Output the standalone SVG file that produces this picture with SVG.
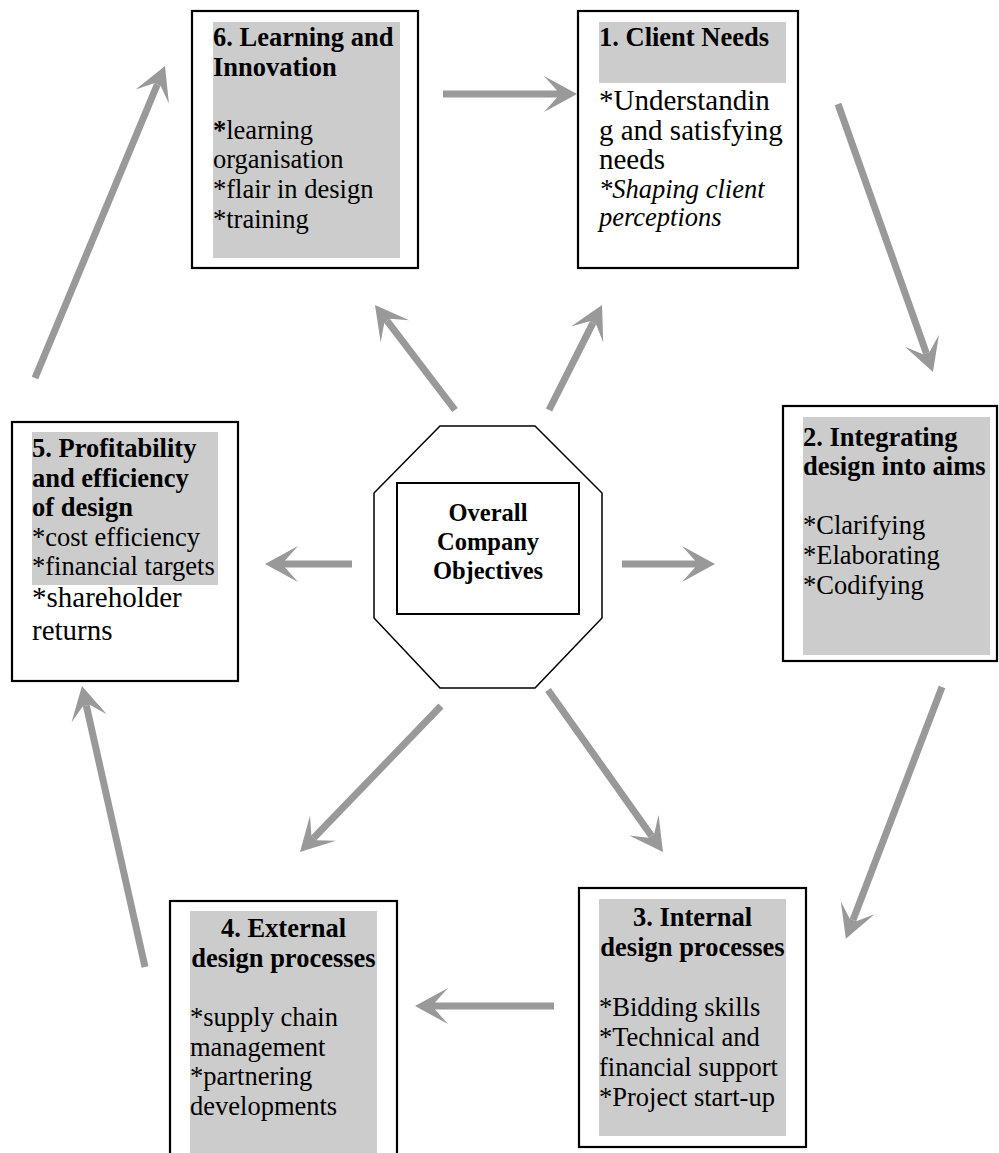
<svg xmlns="http://www.w3.org/2000/svg" width="999" height="1153" viewBox="0 0 999 1153">
<style>
.box{fill:#fff;stroke:#000;stroke-width:2.2}
.sh{fill:#cccccc}
.t{font-family:"Liberation Serif","Times New Roman",serif;font-size:26.5px;fill:#000}
.b{font-weight:bold}
.l{font-size:29px}
.i{font-style:italic}
.c{text-anchor:middle}
.arr{stroke:#999999;stroke-width:7;fill:none;marker-end:url(#ah)}
</style>
<defs>
<marker id="ah" markerUnits="userSpaceOnUse" markerWidth="50" markerHeight="50" viewBox="-25 -25 50 50" refX="0" refY="0" orient="auto" overflow="visible">
<path d="M20,0 L-13,-18 L0,-3.5 L0,3.5 L-13,18 Z" fill="#999999"/>
</marker>
</defs>
<rect width="999" height="1153" fill="#fff"/>
<g id="connectors">
<line class="arr" x1="443" y1="94" x2="557" y2="94"/>
<line class="arr" x1="838" y1="104" x2="926.3" y2="353.1"/>
<line class="arr" x1="942" y1="687" x2="853" y2="920"/>
<line class="arr" x1="554" y1="1006" x2="435" y2="1006"/>
<line class="arr" x1="145" y1="967" x2="86.3" y2="705.5"/>
<line class="arr" x1="35" y1="378" x2="157.3" y2="84.5"/>
<line class="arr" x1="455" y1="410" x2="387.1" y2="320.9"/>
<line class="arr" x1="549" y1="410" x2="593" y2="322.9"/>
<line class="arr" x1="622" y1="564" x2="695" y2="564"/>
<line class="arr" x1="352" y1="564" x2="285" y2="564"/>
<line class="arr" x1="441" y1="706" x2="313.9" y2="837.7"/>
<line class="arr" x1="548" y1="690" x2="651.4" y2="835.7"/>
</g>
<g id="node6">
<rect class="box" x="192" y="11" width="226" height="257"/>
<rect class="sh" x="213" y="22" width="187" height="236"/>
<text class="t b" x="213" y="46">6. Learning and</text>
<text class="t b" x="213" y="76">Innovation</text>
<text class="t" x="213" y="139"><tspan class="b">*</tspan>learning</text>
<text class="t" x="213" y="168">organisation</text>
<text class="t" x="213" y="198">*flair in design</text>
<text class="t" x="213" y="228">*training</text>
</g>
<g id="node1">
<rect class="box" x="578" y="11" width="220" height="257"/>
<rect class="sh" x="599" y="22" width="187" height="61"/>
<text class="t b" x="599" y="46">1. Client Needs</text>
<text class="t l" x="599" y="110">*Understandin</text>
<text class="t l" x="599" y="140">g and satisfying</text>
<text class="t l" x="599" y="169">needs</text>
<text class="t i" x="599" y="198">*Shaping client</text>
<text class="t i" x="599" y="226">perceptions</text>
</g>
<g id="node2">
<rect class="box" x="783" y="406" width="214" height="255"/>
<rect class="sh" x="803" y="417" width="187" height="238"/>
<text class="t b" x="803" y="446">2. Integrating</text>
<text class="t b" x="803" y="475">design into aims</text>
<text class="t" x="803" y="534">*Clarifying</text>
<text class="t" x="803" y="564">*Elaborating</text>
<text class="t" x="803" y="594">*Codifying</text>
</g>
<g id="node3">
<rect class="box" x="579" y="888" width="227" height="259"/>
<rect class="sh" x="599" y="899" width="187" height="237"/>
<text class="t b c" x="692.5" y="926">3. Internal</text>
<text class="t b c" x="692.5" y="956">design processes</text>
<text class="t" x="599" y="1016">*Bidding skills</text>
<text class="t" x="599" y="1046">*Technical and</text>
<text class="t" x="599" y="1076">financial support</text>
<text class="t" x="599" y="1106">*Project start-up</text>
</g>
<g id="node4">
<rect class="box" x="170" y="901" width="227" height="270"/>
<rect class="sh" x="190" y="911" width="187" height="242"/>
<text class="t b c" x="283.5" y="937">4. External</text>
<text class="t b c" x="283.5" y="967">design processes</text>
<text class="t" x="190" y="1026">*supply chain</text>
<text class="t" x="190" y="1056">management</text>
<text class="t" x="190" y="1085">*partnering</text>
<text class="t" x="190" y="1115">developments</text>
</g>
<g id="node5">
<rect class="box" x="12" y="422" width="226" height="259"/>
<rect class="sh" x="32" y="432" width="186" height="153"/>
<text class="t b" x="32" y="457">5. Profitability</text>
<text class="t b" x="32" y="487">and efficiency</text>
<text class="t b" x="32" y="516">of design</text>
<text class="t" x="32" y="546">*cost efficiency</text>
<text class="t" x="32" y="575">*financial targets</text>
<text class="t l" x="32" y="607">*shareholder</text>
<text class="t l" x="32" y="640">returns</text>
</g>
<g id="center">
<polygon points="440,426 535,426 602,493 602,618 535,688 440,688 374,618 374,493" fill="#fff" stroke="#000" stroke-width="1.5"/>
<rect x="397" y="483" width="182" height="131" fill="#fff" stroke="#000" stroke-width="2"/>
<text class="t b c" x="488" y="521" style="font-size:24.5px">Overall</text>
<text class="t b c" x="488" y="550" style="font-size:24.5px">Company</text>
<text class="t b c" x="488" y="579" style="font-size:24.5px">Objectives</text>
</g>
</svg>
